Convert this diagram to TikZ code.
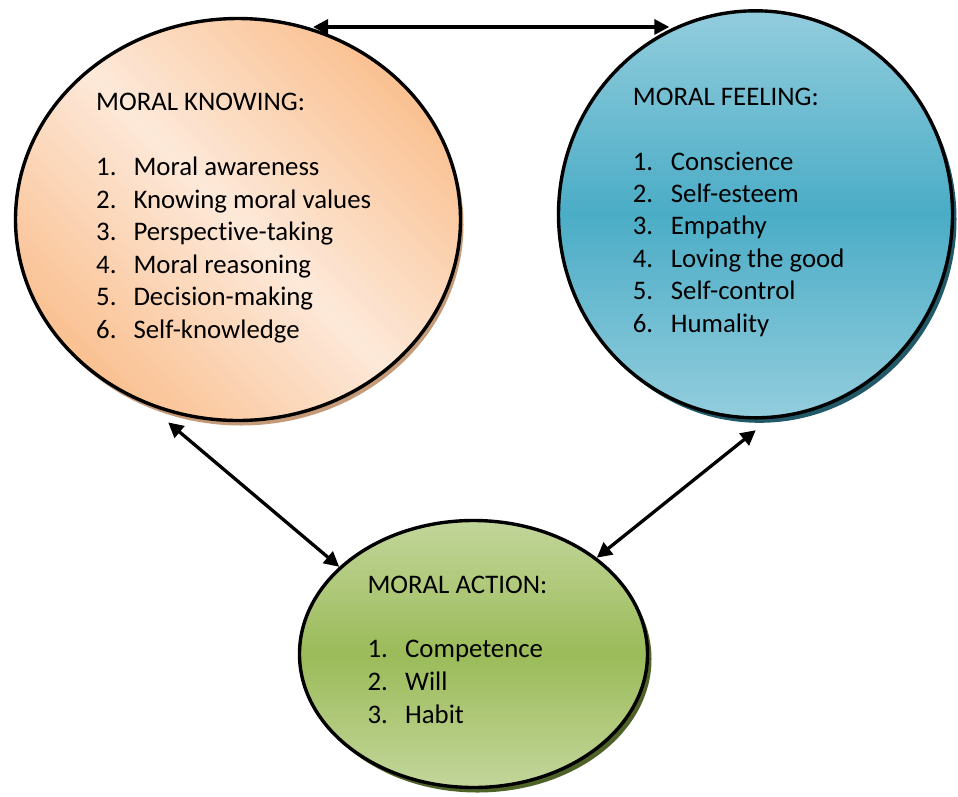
\documentclass[tikz,border=0pt]{standalone}
\usepackage{fontspec}
\setmainfont{Carlito}[RawFeature={-liga}]
\usetikzlibrary{shapes.geometric,arrows.meta}
\definecolor{orDark}{HTML}{FAC090}
\definecolor{orLight}{HTML}{FDE9D9}
\definecolor{orShadow}{HTML}{C49A78}
\definecolor{blLight}{HTML}{93CDDD}
\definecolor{blDark}{HTML}{4BACC6}
\definecolor{blShadow}{HTML}{215968}
\definecolor{grLight}{HTML}{C3D69B}
\definecolor{grDark}{HTML}{9BBB59}
\definecolor{grShadow}{HTML}{4F6228}
\tikzset{
  bubble/.style={ellipse, draw=black, line width=3.4pt, inner sep=0pt},
  shadowblob/.style={ellipse, inner sep=0pt, draw=none},
  txt/.style={font=\fontsize{26.8}{32}\selectfont, inner sep=0pt, anchor=base west, text=black},
  link/.style={line width=3.3pt, {Triangle[length=15pt,width=15pt]}-{Triangle[length=15pt,width=15pt]}},
}
\begin{document}
\begin{tikzpicture}[x=1pt,y=-1pt]
\useasboundingbox (0,0) rectangle (958,796);
% shadows
\node[shadowblob, fill=orShadow, minimum width=445pt, minimum height=402pt] (kns) at (241,224.5) {};
\node[shadowblob, fill=blShadow, minimum width=394pt, minimum height=407pt] (fes) at (759.5,219.3) {};
\node[shadowblob, fill=grShadow, minimum width=348pt, minimum height=267pt] (acs) at (477.5,659) {};
% gradient fills
\begin{scope}
  \clip (238,219.5) ellipse [x radius=222.5, y radius=201];
  \begin{scope}[shift={(238,219.5)}, rotate=-45]
    \foreach \k in {0,...,107}{
      \pgfmathsetmacro\yy{-216+4*\k}
      \pgfmathsetmacro\p{min(100,abs(\yy+2)/214*100)}
      \fill[orDark!\p!orLight] (-320,\yy) rectangle (320,\yy+4.6);
    }
  \end{scope}
\end{scope}
\begin{scope}
  \clip (755.5,214.3) ellipse [x radius=197, y radius=203.5];
  \foreach \k in {0,...,103}{
    \pgfmathsetmacro\yy{214.3-206+4*\k}
    \pgfmathsetmacro\p{min(100,abs(\yy+2-214.3)/205*100)}
    \fill[blLight!\p!blDark] (550,\yy) rectangle (960,\yy+4.6);
  }
\end{scope}
\begin{scope}
  \clip (473.5,654) ellipse [x radius=174, y radius=133.5];
  \foreach \k in {0,...,68}{
    \pgfmathsetmacro\yy{654-136+4*\k}
    \pgfmathsetmacro\p{min(100,abs(\yy+2-654)/135*100)}
    \fill[grLight!\p!grDark] (290,\yy) rectangle (660,\yy+4.6);
  }
\end{scope}
% bubbles (outlines)
\node[bubble, minimum width=445pt, minimum height=402pt] (kn) at (238,219.5) {};
\node[bubble, minimum width=394pt, minimum height=407pt] (fe) at (755.5,214.3) {};
\node[bubble, minimum width=348pt, minimum height=267pt] (ac) at (473.5,654) {};
% texts: moral knowing
\node[txt] (knh) at (96,110.7) {MORAL KNOWING:};
\foreach \t [count=\i] in {Moral awareness, Knowing moral values, Perspective-taking, Moral reasoning, Decision-making, Self-knowledge}{
  \node[txt] (kn-n\i) at (96,{175.7+32.5*(\i-1)}) {\i.};
  \node[txt] (kn-t\i) at (133.3,{175.7+32.5*(\i-1)}) {\t};
}
% moral feeling
\node[txt] (feh) at (632.7,105) {MORAL FEELING:};
\foreach \t [count=\i] in {Conscience, Self-esteem, Empathy, Loving the good, Self-control, Humality}{
  \node[txt] (fe-n\i) at (632.7,{170+32.4*(\i-1)}) {\i.};
  \node[txt] (fe-t\i) at (670.7,{170+32.4*(\i-1)}) {\t};
}
% moral action
\node[txt] (ach) at (367.3,593.3) {MORAL ACTION:};
\foreach \t [count=\i] in {Competence, Will, Habit}{
  \node[txt] (ac-n\i) at (367.3,{657.7+32.8*(\i-1)}) {\i.};
  \node[txt] (ac-t\i) at (405,{657.7+32.8*(\i-1)}) {\t};
}
% connectors
\draw[link, shorten <=5pt] (kn.70) -- (kn.70 -| fe.115);
\draw[link, shorten >=27pt] (ac.147) -- (kn.244);
\draw[link, shorten >=18pt] (ac.38) -- (fe.274);
\end{tikzpicture}
\end{document}
